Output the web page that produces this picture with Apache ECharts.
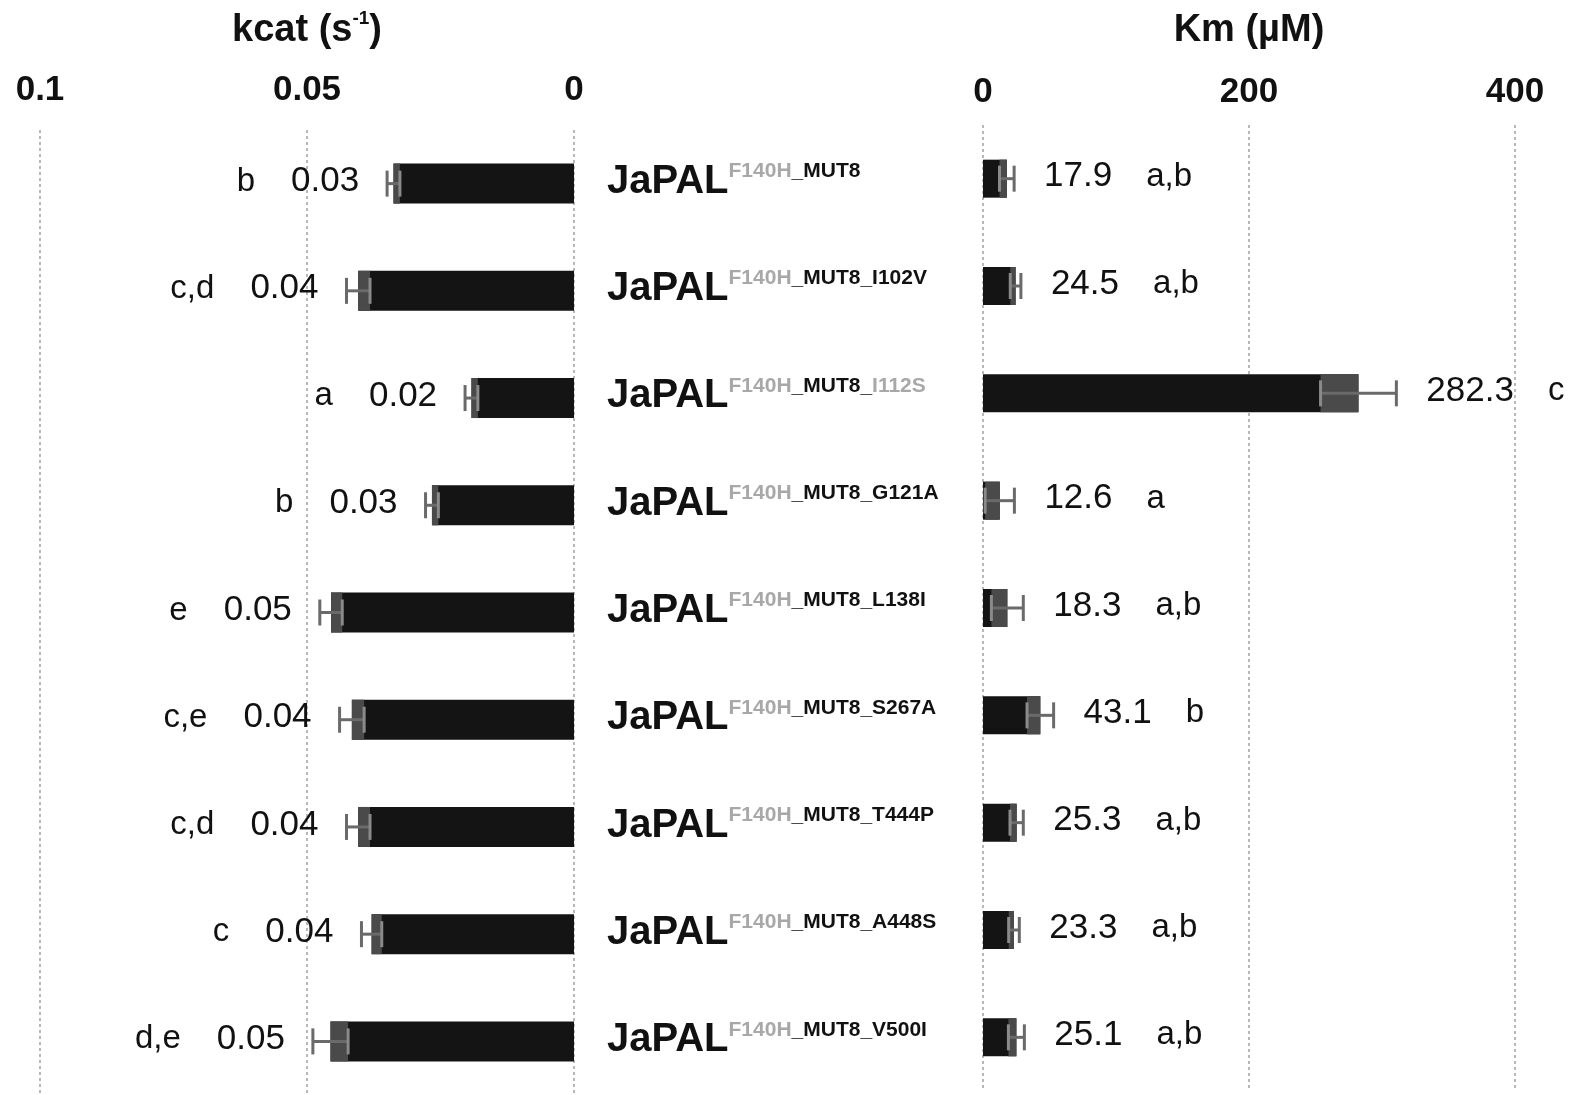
<!DOCTYPE html>
<html>
<head>
<meta charset="utf-8">
<script src="https://cdn.jsdelivr.net/npm/echarts@6/dist/echarts.min.js"></script>
<style>
  html, body { margin: 0; padding: 0; background: #fff; }
  #chart { width: 1580px; height: 1095px; }
</style>
</head>
<body>
<div id="chart"></div>
<script>
// Enzyme variants (superscript part of the JaPAL label)
const strains = [
  'F140H_MUT8',
  'F140H_MUT8_I102V',
  'F140H_MUT8_I112S',
  'F140H_MUT8_G121A',
  'F140H_MUT8_L138I',
  'F140H_MUT8_S267A',
  'F140H_MUT8_T444P',
  'F140H_MUT8_A448S',
  'F140H_MUT8_V500I'
];

// Turnover number kcat (s^-1), standard deviation and significance groups
const kcatValues  = [0.0338, 0.0404, 0.0192, 0.0266, 0.0455, 0.0416, 0.0404, 0.0379, 0.0456];
const kcatErrors  = [0.0012, 0.0022, 0.0012, 0.0012, 0.0021, 0.0023, 0.0022, 0.0019, 0.0033];
const kcatLetters = ['b', 'c,d', 'a', 'b', 'e', 'c,e', 'c,d', 'c', 'd,e'];

// Michaelis constant Km (µM), standard deviation and significance groups
const kmValues  = [17.9, 24.5, 282.3, 12.6, 18.3, 43.1, 25.3, 23.3, 25.1];
const kmErrors  = [5.5, 4, 28.5, 11, 12, 10, 5, 4, 6];
const kmLetters = ['a,b', 'a,b', 'c', 'a', 'a,b', 'b', 'a,b', 'a,b', 'a,b'];

// Axis ticks
const kcatTicks = [0, 0.05, 0.1];
const kmTicks = [0, 200, 400];

const FONT = "'Liberation Sans', Arial, sans-serif";
const INK = '#111';

const gridLine = { show: true, lineStyle: { color: '#b8b8b8', width: 2, type: [3, 3] } };
const tickLabel = (margin) => ({
  fontFamily: FONT, fontSize: 35, fontWeight: 'bold', color: INK, margin: margin
});

// Error bar (shaded inner half + whisker) and value / letter annotation
function errorRenderer(side, barH, digits, letters, gap) {
  return function (params, api) {
    const v = api.value(0), cat = api.value(1), e = api.value(2);
    const pV = api.coord([v, cat]);
    const pLo = api.coord([v - e, cat]);
    const pHi = api.coord([v + e, cat]);
    const y = pV[1];
    const cap = 13;
    const valText = v.toFixed(digits);
    const letter = letters[params.dataIndex];
    const text = side < 0
      ? '{l|' + letter + '}{v|' + valText + '}'
      : '{v|' + valText + '}{l|' + letter + '}';
    return {
      type: 'group',
      children: [
        { type: 'rect',
          shape: { x: Math.min(pLo[0], pV[0]), y: y - barH / 2, width: Math.abs(pV[0] - pLo[0]), height: barH },
          style: { fill: '#4a4a4a' } },
        { type: 'line', shape: { x1: pLo[0], y1: y, x2: pHi[0], y2: y },
          style: { stroke: '#6a6a6a', lineWidth: 3 } },
        { type: 'line', shape: { x1: pLo[0], y1: y - cap, x2: pLo[0], y2: y + cap },
          style: { stroke: '#8a8a8a', lineWidth: 3 } },
        { type: 'line', shape: { x1: pHi[0], y1: y - cap, x2: pHi[0], y2: y + cap },
          style: { stroke: '#6a6a6a', lineWidth: 3 } },
        { type: 'text', x: pHi[0] + side * gap, y: y - 2,
          style: {
            text: text,
            align: side < 0 ? 'right' : 'left',
            verticalAlign: 'middle',
            fontFamily: FONT,
            fill: INK,
            rich: {
              v: { fontFamily: FONT, fontSize: 35, fill: INK,
                   padding: side < 0 ? [0, 0, 0, 36] : [0, 0, 0, 0] },
              l: { fontFamily: FONT, fontSize: 33, fill: INK,
                   padding: side < 0 ? [0, 0, 0, 0] : [0, 0, 0, 34] }
            }
          } }
      ]
    };
  };
}

const chart = echarts.init(document.getElementById('chart'), null, { renderer: 'canvas' });

const KM_LEFT = 983;
const LABEL_X = 607;

chart.setOption({
  animation: false,
  backgroundColor: '#fff',
  grid: [
    { left: 40, width: 534, top: 130, height: 966 },
    { left: KM_LEFT, width: 532, top: 125, height: 966 }
  ],
  xAxis: [
    {
      gridIndex: 0, type: 'value', inverse: true, position: 'top',
      min: kcatTicks[0], max: kcatTicks[kcatTicks.length - 1], interval: kcatTicks[1] - kcatTicks[0],
      axisLine: { show: false }, axisTick: { show: false },
      axisLabel: tickLabel(22),
      splitLine: gridLine,
      name: '{t|kcat (s}{s|-1}{t|)}',
      nameLocation: 'middle', nameGap: 77,
      nameTextStyle: {
        rich: {
          t: { fontFamily: FONT, fontSize: 38, fontWeight: 'bold', color: INK, lineHeight: 44 },
          s: { fontFamily: FONT, fontSize: 19, fontWeight: 'bold', color: INK, verticalAlign: 'top', lineHeight: 44, padding: [0, 0, 14, 0] }
        }
      }
    },
    {
      gridIndex: 1, type: 'value', position: 'top',
      min: kmTicks[0], max: kmTicks[kmTicks.length - 1], interval: kmTicks[1] - kmTicks[0],
      axisLine: { show: false }, axisTick: { show: false },
      axisLabel: tickLabel(15),
      splitLine: gridLine,
      name: 'Km (µM)',
      nameLocation: 'middle', nameGap: 75,
      nameTextStyle: { fontFamily: FONT, fontSize: 38, fontWeight: 'bold', color: INK }
    }
  ],
  yAxis: [
    {
      gridIndex: 0, type: 'category', inverse: true, data: strains,
      axisLine: { show: false }, axisTick: { show: false }, axisLabel: { show: false },
      splitLine: { show: false }
    },
    {
      gridIndex: 1, type: 'category', inverse: true, data: strains, position: 'left',
      axisLine: { show: false }, axisTick: { show: false }, splitLine: { show: false },
      axisLabel: {
        align: 'left', margin: KM_LEFT - LABEL_X,
        formatter: function (name) {
          const parts = name.split('_');
          let s = '{m|JaPAL}{f|' + parts[0] + '}{s|_' + parts[1] + '}';
          if (parts[2]) {
            s += '{s|_}' + (parts[2] === 'I112S' ? '{f|' : '{s|') + parts[2] + '}';
          }
          return s;
        },
        rich: {
          m: { fontFamily: FONT, fontSize: 40, fontWeight: 'bold', color: INK, lineHeight: 46, verticalAlign: 'bottom' },
          s: { fontFamily: FONT, fontSize: 21, fontWeight: 'bold', color: INK, lineHeight: 46, verticalAlign: 'top', padding: [5, 0, 0, 0] },
          f: { fontFamily: FONT, fontSize: 21, fontWeight: 'bold', color: '#a8a8a8', lineHeight: 46, verticalAlign: 'top', padding: [5, 0, 0, 0] }
        }
      }
    }
  ],
  series: [
    {
      type: 'bar', xAxisIndex: 0, yAxisIndex: 0, data: kcatValues,
      barWidth: 40, itemStyle: { color: '#141414' }, z: 2
    },
    {
      type: 'bar', xAxisIndex: 1, yAxisIndex: 1, data: kmValues,
      barWidth: 38, itemStyle: { color: '#141414' }, z: 2
    },
    {
      type: 'custom', xAxisIndex: 0, yAxisIndex: 0, z: 3,
      data: kcatValues.map((v, i) => [v, i, kcatErrors[i]]),
      encode: { x: 0, y: 1 },
      renderItem: errorRenderer(-1, 40, 2, kcatLetters, 28)
    },
    {
      type: 'custom', xAxisIndex: 1, yAxisIndex: 1, z: 3,
      data: kmValues.map((v, i) => [v, i, kmErrors[i]]),
      encode: { x: 0, y: 1 },
      renderItem: errorRenderer(1, 38, 1, kmLetters, 30)
    }
  ]
});
</script>
</body>
</html>
